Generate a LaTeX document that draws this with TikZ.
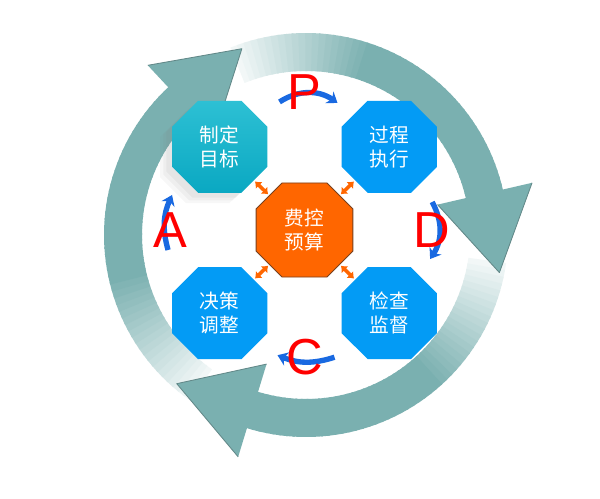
\documentclass[tikz,border=0pt]{standalone}
\usepackage{fontspec}
\setmainfont{Liberation Sans}
\newfontfamily\cjk{Noto Sans CJK SC}
\usepackage{tikz}
\usetikzlibrary{shapes.misc,arrows.meta,calc,shadows,positioning}

\definecolor{ringteal}{RGB}{122,176,176}
\definecolor{ringedge}{RGB}{98,136,136}
\definecolor{goaltop}{RGB}{45,192,212}
\definecolor{goalbot}{RGB}{10,168,194}
\definecolor{stepblue}{RGB}{3,155,245}
\definecolor{budgetorange}{RGB}{255,102,0}
\definecolor{budgetedge}{RGB}{120,64,30}
\definecolor{turnblue}{RGB}{25,105,225}

\tikzstyle{octa} = [chamfered rectangle, chamfered rectangle xsep=0.58cm,
minimum width=2.38cm, minimum height=2.3cm, inner sep=0pt, text=white,
align=center, font=\cjk\fontsize{14}{17}\selectfont]
\tikzstyle{stepbox} = [octa, fill=stepblue]
\tikzstyle{letter} = [inner sep=0pt, text=red, font=\fontsize{36}{36}\selectfont]
\tikzstyle{bone} = [line width=2.5pt, budgetorange,
{Latex[length=4pt,width=7pt]}-{Latex[length=4pt,width=7pt]},
shorten <=1pt, shorten >=1pt]
\tikzstyle{turn} = [line width=3.8pt, turnblue, -{Stealth[length=7pt,width=10pt]}]

% one ring body, pale at the tail
\newcommand{\ringbody}[2]{%
  \foreach \k in {0,...,49}{
    \pgfmathsetmacro{\aa}{#1+(#2-#1)*\k/50}
    \pgfmathsetmacro{\ab}{#1+(#2-#1)*(\k+1.3)/50}
    \pgfmathtruncatemacro{\mix}{min(100,10+\k*4.5)}
    \fill[ringteal!\mix!white] ($(ring)+(\aa:202)$)
      arc[start angle=\aa, end angle=\ab, radius=202]
      -- ($(ring)+(\ab:164)$)
      arc[start angle=\ab, end angle=\aa, radius=164] -- cycle;
  }%
}

\begin{document}
\begin{tikzpicture}[x=0.025cm, y=0.025cm, node distance=2.08cm]
\useasboundingbox[fill=white] (0,0) rectangle (600,499);
\coordinate (ring) at (306,264);

% Ring arrows
\foreach \s/\b in {235/133, 112/13, -8/-107}{\ringbody{\s}{\b}}
\foreach \b in {133, 13, -107}{
  \fill[ringteal] ($(ring)+(\b:232)$) -- ($(ring)+(\b-24:197)$)
    -- ($(ring)+(\b:135)$) -- cycle;
  \draw[ringedge, line width=0.6pt, line join=round] ($(ring)+(\b:232)$)
    -- ($(ring)+(\b-24:197)$) -- ($(ring)+(\b:135)$);
}

% Place nodes
\node [octa, fill=budgetorange, draw=budgetedge, line width=0.6pt,
  minimum width=2.42cm, minimum height=2.35cm] (budget) at (304.5,269) {费控\\预算};
\node [octa, top color=goaltop, bottom color=goalbot,
  drop shadow={shadow xshift=-0.30cm, shadow yshift=-0.26cm, opacity=0.06},
  drop shadow={shadow xshift=-0.22cm, shadow yshift=-0.19cm, opacity=0.07},
  drop shadow={shadow xshift=-0.14cm, shadow yshift=-0.12cm, opacity=0.08},
  above of=budget, xshift=-2.12cm] (goal) {制定\\目标};
\node [stepbox, above of=budget, xshift=2.12cm] (exec) {过程\\执行};
\node [stepbox, below of=budget, xshift=-2.12cm] (adjust) {决策\\调整};
\node [stepbox, below of=budget, xshift=2.12cm] (check) {检查\\监督};

% Place links
\draw [bone] (budget) -- (goal);
\draw [bone] (budget) -- (exec);
\draw [bone] (budget) -- (adjust);
\draw [bone] (budget) -- (check);

% Letters with their turn arrows
\coordinate [above of=budget, node distance=3.45cm] (pP);
\coordinate [right of=budget, node distance=3.19cm] (pD);
\coordinate [below of=budget, node distance=3.18cm] (pC);
\coordinate [left of=budget, node distance=3.36cm] (pA);
\draw [turn] ($(pP)+(-25,-10)$) to[bend left=34] ($(pP)+(33,-11)$);
\draw [turn] ($(pD)+(0,28)$) to[bend left=31] ($(pD)+(-2,-29)$);
\draw [turn] ($(pC)+(30,0)$) to[bend left=20] ($(pC)+(-27,2)$);
\draw [turn] ($(pA)+(-2,-20)$) to[bend left=20] ($(pA)+(2,35)$);
\node [letter] (P) at (pP) {P};
\node [letter] (D) at (pD) {D};
\node [letter] (C) at (pC) {C};
\node [letter] (A) at (pA) {A};

\end{tikzpicture}
\end{document}
